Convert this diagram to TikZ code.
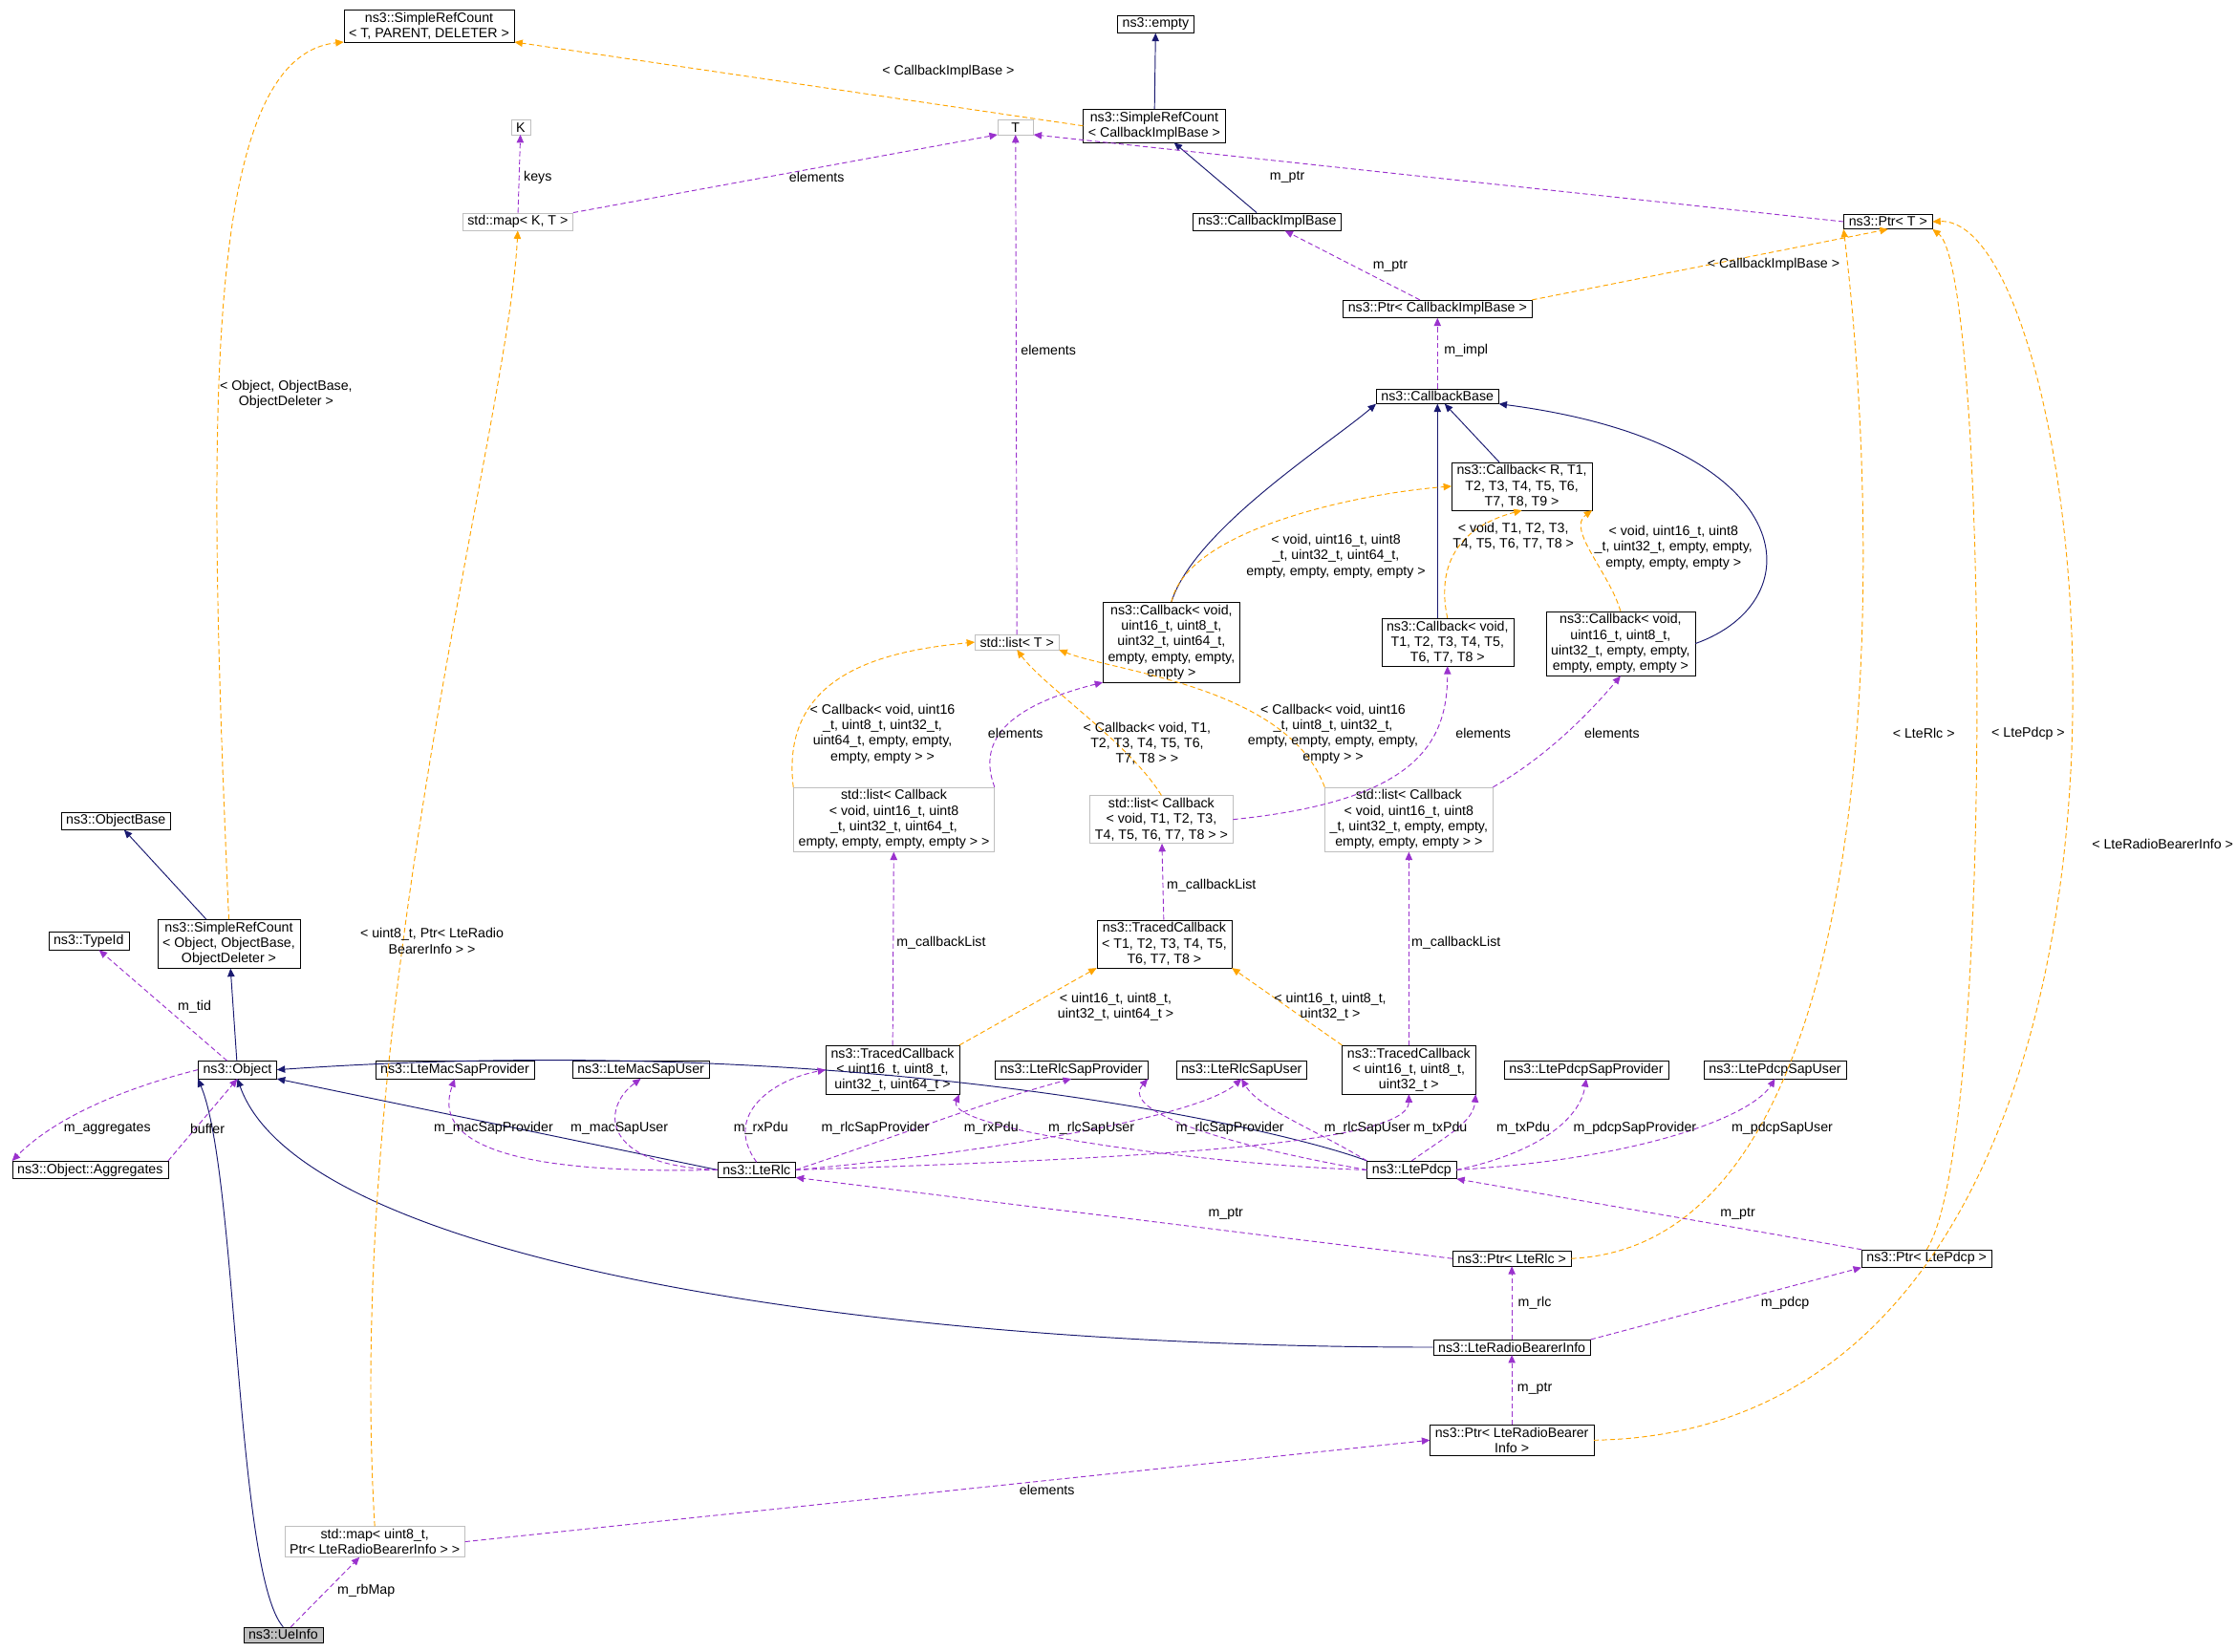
\documentclass[tikz,border=0pt]{standalone}
\usepackage{fontspec}
\setmainfont{Liberation Sans}
\usetikzlibrary{arrows.meta}
\definecolor{navy}{HTML}{191970}
\definecolor{purp}{HTML}{9A32CD}
\definecolor{orng}{HTML}{FFA500}
\definecolor{gbd}{HTML}{BFBFBF}
\newcommand{\dfont}{\fontsize{13.5}{15.5}\selectfont}
\tikzset{
 box/.style={draw=black, fill=white, align=center, font=\dfont, inner ysep=2.5pt, inner xsep=5pt},
 gbox/.style={box, draw=gbd},
 lbl/.style={align=center, font=\dfont, inner sep=0pt},
 tip/.style={-{Triangle[length=8pt,width=7pt]}},
 inh/.style={tip, draw=navy, line width=0.9pt},
 use/.style={tip, draw=purp, dash pattern=on 5pt off 3pt, line width=0.9pt},
 tpl/.style={tip, draw=orng, dash pattern=on 5pt off 3pt, line width=0.9pt},
}
\begin{document}
\begin{tikzpicture}[x=0.05cm,y=-0.05cm]
\useasboundingbox (0,0) rectangle (1564,1155);
\node[box] (srctpd) at (300,18) {ns3::SimpleRefCount\\< T, PARENT, DELETER >};
\node[box] (empty) at (808,17) {ns3::empty};
\node[box] (srccib) at (807,88) {ns3::SimpleRefCount\\< CallbackImplBase >};
\node[gbox] (K) at (364,89) {K};
\node[gbox, minimum width=1.25cm] (T) at (710,89) {T};
\node[gbox] (mapkt) at (362,155) {std::map< K, T >};
\node[box] (cib) at (886,155) {ns3::CallbackImplBase};
\node[box] (ptrT) at (1320,155) {ns3::Ptr< T >};
\node[box] (ptrcib) at (1005,216) {ns3::Ptr< CallbackImplBase >};
\node[box] (cbbase) at (1005,277) {ns3::CallbackBase};
\node[box] (cbR) at (1064,340) {ns3::Callback< R, T1,\\T2, T3, T4, T5, T6,\\T7, T8, T9 >};
\node[gbox] (listT) at (711,449) {std::list< T >};
\node[box] (cb13) at (819,449) {ns3::Callback< void,\\uint16\_t, uint8\_t,\\uint32\_t, uint64\_t,\\empty, empty, empty,\\empty >};
\node[box] (cb14) at (1012,449) {ns3::Callback< void,\\T1, T2, T3, T4, T5,\\T6, T7, T8 >};
\node[box] (cb15) at (1133,450) {ns3::Callback< void,\\uint16\_t, uint8\_t,\\uint32\_t, empty, empty,\\empty, empty, empty >};
\node[box] (objbase) at (81,574) {ns3::ObjectBase};
\node[gbox] (l17) at (625,573) {std::list< Callback\\< void, uint16\_t, uint8\\\_t, uint32\_t, uint64\_t,\\ empty, empty, empty, empty > >};
\node[gbox] (l18) at (812,573) {std::list< Callback\\< void, T1, T2, T3,\\ T4, T5, T6, T7, T8 > >};
\node[gbox] (l19) at (985,573) {std::list< Callback\\< void, uint16\_t, uint8\\\_t, uint32\_t, empty, empty,\\ empty, empty, empty > >};
\node[box] (srcobj) at (160,660) {ns3::SimpleRefCount\\< Object, ObjectBase,\\ObjectDeleter >};
\node[box] (typeid) at (62,658) {ns3::TypeId};
\node[box] (tc22) at (814,660) {ns3::TracedCallback\\< T1, T2, T3, T4, T5,\\T6, T7, T8 >};
\node[box] (tc23) at (624,748) {ns3::TracedCallback\\< uint16\_t, uint8\_t,\\uint32\_t, uint64\_t >};
\node[box] (tc24) at (985,748) {ns3::TracedCallback\\< uint16\_t, uint8\_t,\\uint32\_t >};
\node[box] (object) at (166,748) {ns3::Object};
\node[box] (macprov) at (318,748) {ns3::LteMacSapProvider};
\node[box] (macuser) at (448,748) {ns3::LteMacSapUser};
\node[box] (rlcprov) at (749,748) {ns3::LteRlcSapProvider};
\node[box] (rlcuser) at (868,748) {ns3::LteRlcSapUser};
\node[box] (pdcpprov) at (1109,748) {ns3::LtePdcpSapProvider};
\node[box] (pdcpuser) at (1241,748) {ns3::LtePdcpSapUser};
\node[box] (aggr) at (63,818) {ns3::Object::Aggregates};
\node[box] (lterlc) at (529,818) {ns3::LteRlc};
\node[box] (ltepdcp) at (987,818) {ns3::LtePdcp};
\node[box] (ptrrlc) at (1057,880) {ns3::Ptr< LteRlc >};
\node[box] (ptrpdcp) at (1347,880) {ns3::Ptr< LtePdcp >};
\node[box] (rbi) at (1057,942) {ns3::LteRadioBearerInfo};
\node[box] (ptrrbi) at (1057,1007) {ns3::Ptr< LteRadioBearer\\Info >};
\node[gbox] (map8) at (262,1078) {std::map< uint8\_t,\\ Ptr< LteRadioBearerInfo > >};
\node[box, fill=gbd] (ueinfo) at (198,1143) {ns3::UeInfo};

% inheritance
\draw[inh] (srccib) -- (empty);
\draw[inh] (cib) -- (srccib);
\draw[inh] (cbR) -- (cbbase);
\draw[inh] (cb13.north) .. controls (835,370) and (930,310) .. (cbbase.south west);
\draw[inh] (cb14.north -| cbbase.south) -- (cbbase.south);
\draw[inh] (cb15.east) .. controls (1270,420) and (1260,310) .. (cbbase.south east);
\draw[inh] (srcobj) -- (objbase);
\draw[inh] (object) -- (srcobj);
\draw[inh] (lterlc.west) -- (object.south east);
\draw[inh] (ltepdcp.north west) .. controls (900,790) and (600,720) .. (object.east);
\draw[inh] (rbi.west) .. controls (600,942) and (210,880) .. (object.south);
\draw[inh] (ueinfo.north) .. controls (165,1100) and (166,820) .. (object.south west);

% usage
\draw[use] (mapkt) -- (K);
\draw[use] (mapkt.north east) -- (T.south west);
\draw[use] (ptrT.west) -- (T.south east);
\draw[use] (ptrcib) -- (cib);
\draw[use] (cbbase) -- (ptrcib);
\draw[use] (listT) -- (T);
\draw[use] (l17.north east) .. controls (680,510) and (720,490) .. (cb13.south west);
\draw[use] (l18.east) .. controls (990,560) and (1012,520) .. (cb14.south);
\draw[use] (l19.north east) .. controls (1080,530) and (1110,500) .. (cb15.south);
\draw[use] (tc22) -- (l18);
\draw[use] (tc23) -- (l17);
\draw[use] (tc24) -- (l19);
\draw[use] (object) -- (typeid);
\draw[use] (aggr.north east) -- (object.south);
\draw[use] (object.west) .. controls (90,760) and (40,780) .. (aggr.north west);
\draw[use] (lterlc.west) .. controls (330,822) and (305,790) .. (macprov.south);
\draw[use] (lterlc.west) .. controls (420,815) and (420,775) .. (macuser.south);
\draw[use] (lterlc.north) .. controls (505,780) and (540,755) .. (tc23.west);
\draw[use] (lterlc.east) .. controls (800,810) and (985,800) .. (tc24.south);
\draw[use] (lterlc.east) .. controls (640,790) and (690,770) .. (rlcprov.south);
\draw[use] (lterlc.east) .. controls (700,805) and (840,780) .. (rlcuser.south);
\draw[use] (ltepdcp.west) .. controls (850,815) and (660,790) .. (tc23.south east);
\draw[use] (ltepdcp.west) .. controls (880,805) and (780,780) .. (rlcprov.south east);
\draw[use] (ltepdcp.north west) .. controls (920,790) and (880,775) .. (rlcuser.south);
\draw[use] (ltepdcp.north) .. controls (1010,795) and (1030,785) .. (tc24.south east);
\draw[use] (ltepdcp.east) .. controls (1080,805) and (1105,780) .. (pdcpprov.south);
\draw[use] (ltepdcp.east) .. controls (1150,810) and (1225,780) .. (pdcpuser.south);
\draw[use] (ptrrlc.west) -- (lterlc.south east);
\draw[use] (ptrpdcp.north west) -- (ltepdcp.south east);
\draw[use] (rbi) -- (ptrrlc);
\draw[use] (rbi.north east) -- (ptrpdcp.south west);
\draw[use] (ptrrbi) -- (rbi);
\draw[use] (map8.east) -- (ptrrbi.west);
\draw[use] (ueinfo) -- (map8);

% templates
\draw[tpl] (srccib.west) -- (srctpd.south east);
\draw[tpl] (srcobj.north) .. controls (145,300) and (140,40) .. (srctpd.south west);
\draw[tpl] (ptrcib.north east) -- (ptrT.south);
\draw[tpl] (cb13.north) .. controls (830,370) and (950,345) .. (cbR.west);
\draw[tpl] (cb14.north) .. controls (1005,400) and (1015,370) .. (cbR.south);
\draw[tpl] (cb15.north) .. controls (1125,400) and (1095,370) .. (cbR.south east);
\draw[tpl] (l17.north west) .. controls (545,470) and (620,455) .. (listT.west);
\draw[tpl] (l18.north) .. controls (790,520) and (730,480) .. (listT.south);
\draw[tpl] (l19.north west) .. controls (900,480) and (780,470) .. (listT.south east);
\draw[tpl] (tc23.north east) -- (tc22.south west);
\draw[tpl] (tc24.north west) -- (tc22.south east);
\draw[tpl] (ptrrlc.east) .. controls (1318,870) and (1318,400) .. (ptrT.south west);
\draw[tpl] (ptrpdcp.north) .. controls (1395,800) and (1390,190) .. (ptrT.south east);
\draw[tpl] (ptrrbi.east) .. controls (1560,1000) and (1470,150) .. (ptrT.east);
\draw[tpl] (map8.north) .. controls (240,700) and (355,300) .. (mapkt.south);

% labels
\node[lbl] (a1) at (663,50) {< CallbackImplBase >};
\node[lbl] (a2) at (200,276) {< Object, ObjectBase,\\ObjectDeleter >};
\node[lbl] (a3) at (376,124) {keys};
\node[lbl] (a4) at (571,124) {elements};
\node[lbl] (a5) at (900,124) {m\_ptr};
\node[lbl] (a6) at (972,186) {m\_ptr};
\node[lbl] (a7) at (1240,185) {< CallbackImplBase >};
\node[lbl] (a8) at (733,245) {elements};
\node[lbl] (a9) at (1025,245) {m\_impl};
\node[lbl] (a10) at (934,389) {< void, uint16\_t, uint8\\\_t, uint32\_t, uint64\_t,\\ empty, empty, empty, empty >};
\node[lbl] (a11) at (1058,375) {< void, T1, T2, T3,\\T4, T5, T6, T7, T8 >};
\node[lbl] (a12) at (1170,383) {< void, uint16\_t, uint8\\\_t, uint32\_t, empty, empty,\\ empty, empty, empty >};
\node[lbl] (a13) at (617,513) {< Callback< void, uint16\\\_t, uint8\_t, uint32\_t,\\ uint64\_t, empty, empty,\\ empty, empty > >};
\node[lbl] (a14) at (710,513) {elements};
\node[lbl] (a15) at (802,520) {< Callback< void, T1,\\T2, T3, T4, T5, T6,\\T7, T8 > >};
\node[lbl] (a16) at (932,513) {< Callback< void, uint16\\\_t, uint8\_t, uint32\_t,\\ empty, empty, empty, empty,\\ empty > >};
\node[lbl] (a17) at (1037,513) {elements};
\node[lbl] (a18) at (1127,513) {elements};
\node[lbl] (a19) at (1345,513) {< LteRlc >};
\node[lbl] (a20) at (1418,513) {< LtePdcp >};
\node[lbl] (a21) at (1512,590) {< LteRadioBearerInfo >};
\node[lbl] (a22) at (302,658) {< uint8\_t, Ptr< LteRadio\\BearerInfo > >};
\node[lbl] (a23) at (847,619) {m\_callbackList};
\node[lbl] (a24) at (658,659) {m\_callbackList};
\node[lbl] (a25) at (1018,659) {m\_callbackList};
\node[lbl] (a26) at (780,704) {< uint16\_t, uint8\_t,\\uint32\_t, uint64\_t >};
\node[lbl] (a27) at (930,704) {< uint16\_t, uint8\_t,\\uint32\_t >};
\node[lbl] (a28) at (136,704) {m\_tid};
\node[lbl] (a29) at (75,789) {m\_aggregates};
\node[lbl] (a30) at (145,789) {buffer};
\node[lbl] (a31) at (345,789) {m\_macSapProvider};
\node[lbl] (a32) at (433,789) {m\_macSapUser};
\node[lbl] (a33) at (532,789) {m\_rxPdu};
\node[lbl] (a34) at (612,789) {m\_rlcSapProvider};
\node[lbl] (a35) at (693,789) {m\_rxPdu};
\node[lbl] (a36) at (763,789) {m\_rlcSapUser};
\node[lbl] (a37) at (860,789) {m\_rlcSapProvider};
\node[lbl] (a38) at (956,789) {m\_rlcSapUser};
\node[lbl] (a39) at (1007,789) {m\_txPdu};
\node[lbl] (a40) at (1065,789) {m\_txPdu};
\node[lbl] (a41) at (1143,789) {m\_pdcpSapProvider};
\node[lbl] (a42) at (1246,789) {m\_pdcpSapUser};
\node[lbl] (a43) at (857,849) {m\_ptr};
\node[lbl] (a44) at (1215,849) {m\_ptr};
\node[lbl] (a45) at (1073,911) {m\_rlc};
\node[lbl] (a46) at (1248,911) {m\_pdcp};
\node[lbl] (a47) at (1073,971) {m\_ptr};
\node[lbl] (a48) at (732,1042) {elements};
\node[lbl] (a49) at (256,1112) {m\_rbMap};
\end{tikzpicture}
\end{document}
